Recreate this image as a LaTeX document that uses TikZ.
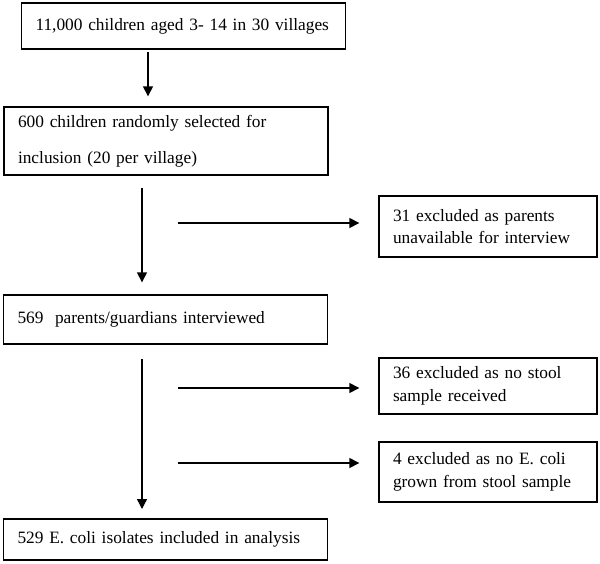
\documentclass[tikz,border=0pt]{standalone}
\usepackage{fontspec}
\setmainfont{Liberation Serif}
\usepackage{tikz}
\usetikzlibrary{arrows.meta}

\tikzset{
  stepbox/.style={draw, line width=1pt, align=left, inner xsep=10.5pt, inner ysep=0pt,
    font=\fontsize{13}{17}\selectfont},
  mainbox/.style={stepbox, minimum width=243pt, text width=222pt},
  exclbox/.style={stepbox, minimum width=163.5pt, text width=142.5pt},
  arr/.style={line width=1pt, -{Triangle[length=7.5pt,width=7.5pt]}}
}

\begin{document}
\begin{tikzpicture}[x=0.75pt,y=-0.75pt]
\useasboundingbox (0,0) rectangle (600,564);

% main column
\node [mainbox, minimum height=34.5pt] (n1) at (183.5,26) {11,000 children aged 3- 14 in 30 villages};
\node [mainbox, minimum height=51pt] (n2) at (166,141) {600 children randomly selected for\\[10pt] inclusion (20 per village)};
\node [mainbox, minimum height=36.75pt] (n3) at (165.5,319.5) {569\ \ parents/guardians interviewed};
\node [mainbox, minimum height=30.75pt] (n4) at (165.5,539.5) {529 E. coli isolates included in analysis};

% exclusions
\node [exclbox, minimum height=45.75pt] (e1) at (488,226.5) {31 excluded as parents\\ unavailable for interview};
\node [exclbox, minimum height=42pt] (e2) at (488,386) {36 excluded as no stool\\ sample received};
\node [exclbox, minimum height=45pt] (e3) at (488,472) {4 excluded as no E. coli\\ grown from stool sample};

\coordinate (stem1) at (148,0);
\coordinate (stem) at (142,0);
\coordinate (x1) at (178,223);
\coordinate (x2) at (178,388);
\coordinate (x3) at (178,463);

\draw [arr, shorten <=1.5pt, shorten >=7.5pt] (n1.south -| stem1) -- (n2.north -| stem1);
\draw [arr, shorten <=9.5pt, shorten >=9pt] (n2.south -| stem) -- (n3.north -| stem);
\draw [arr, shorten <=11pt, shorten >=7pt] (n3.south -| stem) -- (n4.north -| stem);

\draw [arr, shorten >=14.25pt] (x1) -- (x1 -| e1.west);
\draw [arr, shorten >=14.25pt] (x2) -- (x2 -| e2.west);
\draw [arr, shorten >=14.25pt] (x3) -- (x3 -| e3.west);

\end{tikzpicture}
\end{document}
